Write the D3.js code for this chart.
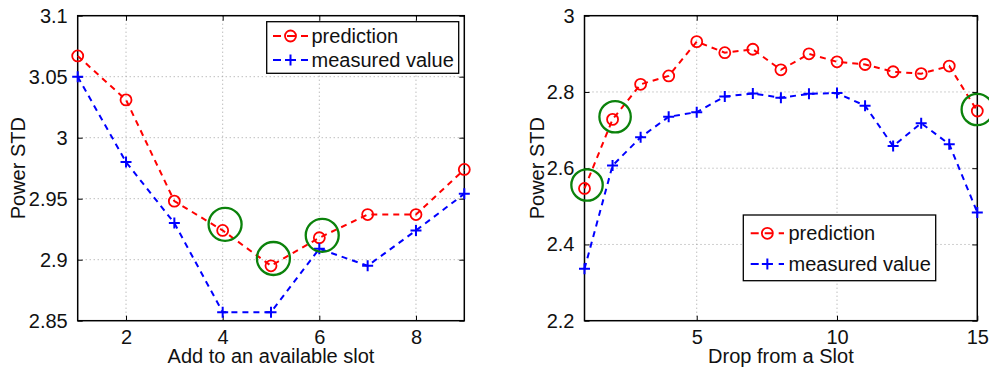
<!DOCTYPE html>
<html><head><meta charset="utf-8">
<script src="https://cdn.jsdelivr.net/npm/d3@7"></script>
<style>
body{margin:0;background:#fff;}
svg text{font-family:"Liberation Sans",Arial,Helvetica,sans-serif;fill:#111;}
</style></head>
<body><svg id="c" width="989" height="369"></svg>
<script>
// ---- Left panel data ----
const leftX = [1,2,3,4,5,6,7,8,9];
const leftPrediction = [3.067,3.031,2.948,2.924,2.895,2.918,2.937,2.937,2.974];
const leftMeasured   = [3.050,2.980,2.930,2.857,2.857,2.909,2.895,2.924,2.954];
const leftHighlightX = [4.05,5.05,6.06];
const leftHighlightY = [2.929,2.901,2.920];
const leftXTicks = [2,4,6,8];
const leftYTicks = [2.85,2.9,2.95,3,3.05,3.1];

// ---- Right panel data ----
const rightX = [1,2,3,4,5,6,7,8,9,10,11,12,13,14,15];
const rightPrediction = [2.547,2.728,2.820,2.842,2.932,2.903,2.912,2.858,2.900,2.879,2.872,2.853,2.848,2.868,2.750];
const rightMeasured   = [2.336,2.607,2.681,2.735,2.747,2.788,2.796,2.785,2.795,2.797,2.764,2.658,2.718,2.663,2.484];
const rightHighlightX = [1.09,2.09,15.0];
const rightHighlightY = [2.556,2.735,2.754];
const rightXTicks = [5,10,15];
const rightYTicks = [2.2,2.4,2.6,2.8,3];

const seriesNames = ["prediction","measured value"];
const xLabels = ["Add to an available slot","Drop from a Slot"];
const yLabel = "Power STD";

const svg = d3.select("#c");
const RED = "#ff0000", BLUE = "#0000ff", GREEN = "#0b820b";

function panel(cfg){
  const g = svg.append("g");
  const x = d3.scaleLinear().domain(cfg.xDomain).range([cfg.left, cfg.right]);
  const y = d3.scaleLinear().domain(cfg.yDomain).range([cfg.bottom, cfg.top]);
  // grid
  g.selectAll(".gx").data(cfg.xTicks.filter(t=>t>cfg.xDomain[0]&&t<cfg.xDomain[1])).enter().append("line")
    .attr("x1",d=>x(d)).attr("x2",d=>x(d)).attr("y1",cfg.top).attr("y2",cfg.bottom)
    .attr("stroke","#a0a0a0").attr("stroke-width",1).attr("stroke-dasharray","1,3");
  g.selectAll(".gy").data(cfg.yTicks.filter(t=>t>cfg.yDomain[0]&&t<cfg.yDomain[1])).enter().append("line")
    .attr("y1",d=>y(d)).attr("y2",d=>y(d)).attr("x1",cfg.left).attr("x2",cfg.right)
    .attr("stroke","#a0a0a0").attr("stroke-width",1).attr("stroke-dasharray","1,3");
  // axes via d3 axes
  const fmt = d=>String(+d.toFixed(2));
  const ax = g.append("g").attr("transform",`translate(0,${cfg.bottom})`)
    .call(d3.axisBottom(x).tickValues(cfg.xTicks).tickSize(-5).tickPadding(9).tickFormat(fmt));
  const axT = g.append("g").attr("transform",`translate(0,${cfg.top})`)
    .call(d3.axisTop(x).tickValues(cfg.xTicks).tickSize(-5).tickFormat(""));
  const ay = g.append("g").attr("transform",`translate(${cfg.left},0)`)
    .call(d3.axisLeft(y).tickValues(cfg.yTicks).tickSize(-5).tickPadding(10).tickFormat(fmt));
  const ayR = g.append("g").attr("transform",`translate(${cfg.right},0)`)
    .call(d3.axisRight(y).tickValues(cfg.yTicks).tickSize(-5).tickFormat(""));
  [ax,axT,ay,ayR].forEach(a=>{
    a.select(".domain").remove();
    a.selectAll(".tick line").attr("stroke","#000").attr("stroke-width",1);
    a.selectAll("text").attr("font-size",20).attr("font-family","Liberation Sans, Arial, sans-serif").attr("fill","#111");
  });
  ax.selectAll("text").attr("dy","0.71em");
  // box
  g.append("rect").attr("x",cfg.left).attr("y",cfg.top).attr("width",cfg.right-cfg.left).attr("height",cfg.bottom-cfg.top)
    .attr("fill","none").attr("stroke","#000").attr("stroke-width",1.5);
  // labels
  g.append("text").attr("x",(cfg.left+cfg.right)/2).attr("y",363).attr("text-anchor","middle").attr("font-size",20).text(cfg.xLabel);
  g.append("text").attr("transform",`translate(${cfg.yLabelX},${(cfg.top+cfg.bottom)/2}) rotate(-90)`)
    .attr("text-anchor","middle").attr("font-size",20).text(yLabel);
  // lines
  const line = d3.line().x(d=>x(d[0])).y(d=>y(d[1]));
  const pred = cfg.xs.map((v,i)=>[v,cfg.pred[i]]);
  const meas = cfg.xs.map((v,i)=>[v,cfg.meas[i]]);
  g.append("path").attr("d",line(pred)).attr("fill","none").attr("stroke",RED).attr("stroke-width",2).attr("stroke-dasharray","6,5");
  g.append("path").attr("d",line(meas)).attr("fill","none").attr("stroke",BLUE).attr("stroke-width",2).attr("stroke-dasharray","6,5");
  g.selectAll(".pm").data(pred).enter().append("circle").attr("cx",d=>x(d[0])).attr("cy",d=>y(d[1])).attr("r",5.5)
    .attr("fill","none").attr("stroke",RED).attr("stroke-width",1.8);
  const plus = (sel,px,py)=>{
    sel.append("path").attr("d",`M${px-5.5},${py}H${px+5.5}M${px},${py-5.5}V${py+5.5}`).attr("stroke",BLUE).attr("stroke-width",2).attr("fill","none");
  };
  meas.forEach(d=>plus(g,x(d[0]),y(d[1])));
  // highlight circles
  cfg.hx.forEach((hx,i)=>{
    g.append("circle").attr("cx",x(hx)).attr("cy",y(cfg.hy[i])).attr("r",cfg.hr).attr("fill","none").attr("stroke",GREEN).attr("stroke-width",2.3);
  });
  // legend
  const L = cfg.legend;
  g.append("rect").attr("x",L.x).attr("y",L.y).attr("width",L.w).attr("height",L.h).attr("fill","#fff").attr("stroke","#000").attr("stroke-width",1.3);
  seriesNames.forEach((name,i)=>{
    const ly = L.row0 + i*L.dy;
    const col = i===0?RED:BLUE;
    g.append("line").attr("x1",L.lx0).attr("x2",L.lx1).attr("y1",ly).attr("y2",ly).attr("stroke",col).attr("stroke-width",2).attr("stroke-dasharray","8,6");
    const mx=(L.lx0+L.lx1)/2;
    if(i===0) g.append("circle").attr("cx",mx).attr("cy",ly).attr("r",5.5).attr("fill","none").attr("stroke",RED).attr("stroke-width",1.8);
    else plus(g,mx,ly);
    g.append("text").attr("x",L.tx).attr("y",ly).attr("dy","0.35em").attr("font-size",20).text(name);
  });
}

panel({left:77.7,right:464.3,top:15.7,bottom:320.7,xDomain:[1,9],yDomain:[2.85,3.1],
  xTicks:leftXTicks,yTicks:leftYTicks,xs:leftX,pred:leftPrediction,meas:leftMeasured,
  hx:leftHighlightX,hy:leftHighlightY,hr:16.5,xLabel:xLabels[0],yLabelX:25,
  legend:{x:266.7,y:21.7,w:192,h:51.6,row0:36,dy:24,lx0:273,lx1:308,tx:311.5}});
panel({left:584.5,right:977.3,top:15.7,bottom:320.7,xDomain:[1,15],yDomain:[2.2,3],
  xTicks:rightXTicks,yTicks:rightYTicks,xs:rightX,pred:rightPrediction,meas:rightMeasured,
  hx:rightHighlightX,hy:rightHighlightY,hr:15.7,xLabel:xLabels[1],yLabelX:543.5,
  legend:{x:743.3,y:215,w:192.4,h:65.7,row0:233.3,dy:30.7,lx0:750.7,lx1:784,tx:788.5}});
</script></body></html>
